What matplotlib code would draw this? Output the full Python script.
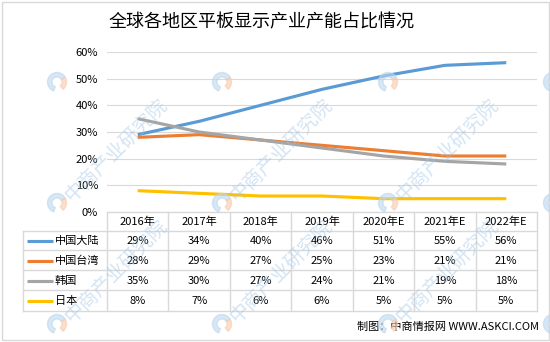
import matplotlib
matplotlib.use('Agg')
import matplotlib.pyplot as plt
import matplotlib.transforms as mtransforms
from matplotlib.lines import Line2D
from matplotlib.patches import Rectangle, Wedge

plt.rcParams['font.family'] = ['Noto Sans CJK SC', 'DejaVu Sans']

# 数据
TITLE = '全球各地区平板显示产业产能占比情况'
YEARS = ['2016年', '2017年', '2018年', '2019年', '2020年E', '2021年E', '2022年E']
REGION_NAMES = ['中国大陆', '中国台湾', '韩国', '日本']
MAINLAND = [29, 34, 40, 46, 51, 55, 56]
TAIWAN = [28, 29, 27, 25, 23, 21, 21]
KOREA = [35, 30, 27, 24, 21, 19, 18]
JAPAN = [8, 7, 6, 6, 5, 5, 5]
Y_TICKS = [0, 10, 20, 30, 40, 50, 60]
SOURCE = '制图：中商情报网 WWW.ASKCI.COM'
WATERMARK = '中商产业研究院'

SERIES = [MAINLAND, TAIWAN, KOREA, JAPAN]
COLORS = ['#5B9BD5', '#ED7D31', '#A5A5A5', '#FFC000']
GRID_C = '#D9D9D9'

W, H = 550, 342


def fx(px):
    return px / W


def fy(py):
    return 1 - py / H


fig = plt.figure(figsize=(5.5, 3.42), dpi=100)
# 像素坐标 (y 向下)
px_tr = mtransforms.Affine2D().scale(1 / W, -1 / H).translate(0, 1) + fig.transFigure

ax = fig.add_axes([fx(107), fy(212), fx(537) - fx(107), fy(52) - fy(212)])
x = list(range(len(YEARS)))
for vals, c in zip(SERIES, COLORS):
    ax.plot(x, vals, color=c, lw=2.25, solid_capstyle='butt', zorder=3)

ax.set_xlim(-0.5, len(YEARS) - 0.5)
ax.set_ylim(0, 60)
ax.set_yticks(Y_TICKS)
ax.set_yticklabels([f'{v}%' for v in Y_TICKS])
ax.set_xticks([])
ax.tick_params(axis='y', length=0, pad=6.5, labelsize=8)
ax.grid(axis='y', color=GRID_C, lw=0.8)
ax.set_axisbelow(True)
for s in ax.spines.values():
    s.set_visible(False)

# 数据表
tbl_tr = mtransforms.blended_transform_factory(ax.transData, px_tr)
ROW_Y = [211.7, 230.5, 250.3, 270.3, 290.3, 310.5]
LEFT_PX = 23.3
line_kw = dict(color=GRID_C, lw=1.0, clip_on=False)

# 横线
fig.add_artist(Line2D([-0.5, len(YEARS) - 0.5], [ROW_Y[0]] * 2, transform=tbl_tr, **line_kw))
for yy in ROW_Y[1:]:
    fig.add_artist(Line2D([LEFT_PX, 536.7], [yy, yy], transform=px_tr, **line_kw))
# 竖线
for i in range(len(YEARS) + 1):
    fig.add_artist(Line2D([i - 0.5, i - 0.5], [ROW_Y[0], ROW_Y[-1]], transform=tbl_tr, **line_kw))
fig.add_artist(Line2D([LEFT_PX, LEFT_PX], [ROW_Y[1], ROW_Y[-1]], transform=px_tr, **line_kw))

# 表头
for i, yr in enumerate(YEARS):
    fig.text(i, (ROW_Y[0] + ROW_Y[1]) / 2 + 0.5, yr, transform=tbl_tr,
             ha='center', va='center', fontsize=8, color='black')
# 各行
for r, (name, vals, c) in enumerate(zip(REGION_NAMES, SERIES, COLORS)):
    yc = (ROW_Y[r + 1] + ROW_Y[r + 2]) / 2 + 0.5
    fig.add_artist(Line2D([27, 53], [yc, yc], transform=px_tr, color=c, lw=2.25,
                          solid_capstyle='butt'))
    fig.text(55, yc, name, transform=px_tr, ha='left', va='center', fontsize=8, color='black')
    for i, v in enumerate(vals):
        fig.text(i, yc, f'{v}%', transform=tbl_tr, ha='center', va='center',
                 fontsize=8, color='black')

# 标题 / 来源
fig.text(262, 22, TITLE, transform=px_tr, ha='center', va='center', fontsize=13, color='black')
fig.text(539, 327, SOURCE, transform=px_tr, ha='right', va='center', fontsize=8, color='black')

# 水印 (只保留完整的文字, 边缘只画图标)
for lx in [57, 222, 388, 553]:
    for ly in [82, 203, 324]:
        fig.add_artist(Wedge((lx, ly), 9.5, 110, 330, width=4.5, transform=px_tr,
                             color='#BDD7EE', alpha=0.6, zorder=5))
        fig.add_artist(Wedge((lx, ly), 9.5, 330, 410, width=4.5, transform=px_tr,
                             color='#F8CBAD', alpha=0.6, zorder=5))
        if ly > 100 and lx < 500:
            fig.text(lx + 11, ly - 4, WATERMARK, transform=px_tr, rotation=45,
                     rotation_mode='anchor', ha='left', va='center', fontsize=14,
                     color='#9DC3E6', alpha=0.45, zorder=5)

# 外框
fig.add_artist(Rectangle((1.5, 1.5), 547, 338, transform=px_tr, fill=False,
                         edgecolor=GRID_C, lw=1.0))

fig.savefig('out.png', dpi=100)
